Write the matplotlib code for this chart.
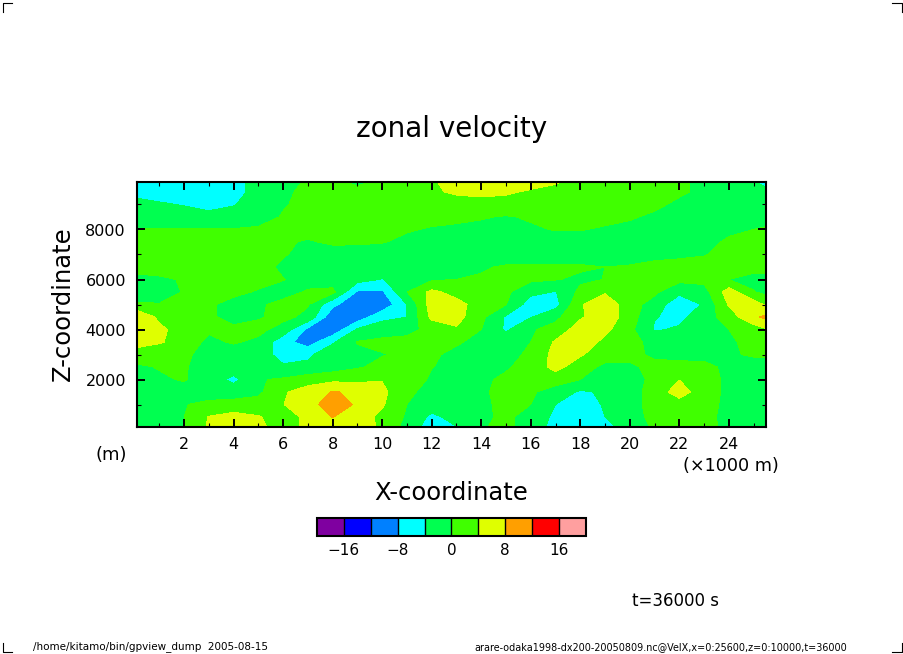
import matplotlib
matplotlib.use("Agg")
import matplotlib.pyplot as plt
import numpy as np
from matplotlib.lines import Line2D

W, H = 904, 654

x_km = [0.1, 1, 2, 3, 4, 5, 6, 7, 8, 9, 10, 11, 12, 13, 14, 15, 16, 17, 18, 19, 20, 21, 22, 23, 24, 25, 25.5]
z_m = [100, 500, 1000, 1500, 2000, 2500, 3000, 3500, 4000, 4500, 5000, 5500, 6000, 6500, 7000, 7500, 8000, 8500, 9000, 9500, 9900]

# zonal velocity, bottom row first
velx = [
    [-3, -2.5, 0, 4.5, 6, 5, 2, 5, 6, 5.5, 3.5, -1.5, -6, -4.1, -0.2, 0.5, -1, -6, -7, -5, -2.5, 0.6, 1.5, 1.2, -1, -2.5, -3],
    [-3, -2.5, 0, 4.2, 5.5, 4.3, 2, 5, 8.1, 6, 3, -0.5, -5, -2.5, -0.5, 0.5, -1, -5, -7, -4, -1.5, 1, 1.5, 1, -1, -2.5, -3],
    [-2.5, -2, -0.2, 1, 1.5, 1.5, 3.9, 6.5, 10, 7.5, 4.5, 0, -2, -3, -0.8, 1, 0, -4, -6.5, -3.5, -1, 1, 1.5, 1, -0.7, -2, -2.5],
    [-2, -1.5, -1.5, -2, -2, -0.8, 3.5, 6, 8.2, 7.5, 5, 0.6, -1, -1.5, -0.5, 1, 0.5, -1.5, -4.6, -3.4, -1, 1, 6.5, 1, -0.5, -1.5, -2],
    [-1.5, -0.5, 0.3, -2, -5, -0.3, 0.5, 2, 3, 3, 3.8, 2, -0.5, -1.5, -0.5, 0.5, 1, 1.5, 0, -2.8, -1, 0.6, 3.9, 1, -0.5, -1.5, -2],
    [-0.5, 0.2, 0.3, -1.5, -2, -2.5, -3.5, -3, -2, -0.4, 1, 1, 0.1, -1, -1.5, -0.3, 1, 5.5, 1.5, -0.8, -0.5, 0.8, 1, 0.8, -0.7, -1.5, -2],
    [1.5, 1, 0.5, -1, -2, -2, -5.5, -4.8, -1.5, -0.8, -0.2, 0.8, 0.5, -0.8, -1.5, -0.7, 0.4, 5.5, 4.5, 1.5, 0.8, -0.5, -1, -1, -0.4, 0.4, 0.7],
    [6, 4.5, 2, -0.8, 0.4, -0.8, -6.5, -10, -4.5, 0.2, 1, 1, 0.8, 0.4, -1, -2, 0, 4.5, 6.5, 3, 1, -1, -2, -2, -0.5, 1, 1.5],
    [6, 5, 2, 0.5, 0.6, 1, -1.5, -9, -11, -3.5, -2, -1, 1, 3.5, 0, -4.6, -0.5, 1.5, 6, 5, 1, -4.4, -3.5, -2, 0, 2, 3.5],
    [8, 3, 1.5, 0.5, -1, -0.3, 1, -1, -11, -10.5, -5, -4, 5, 5.5, 1, -4.5, -4.2, -1, 3.5, 6.5, 2, -3.8, -5, -2, 2, 7, 9],
    [0.5, 0.2, 0.8, 0.3, -0.7, -0.4, 0.8, 0.3, -7, -11, -11, -4, 6, 5.5, 2, 0.1, -6, -5.5, 3.5, 7, 1.5, -1.5, -7, -3.5, 4.4, 6, 3.5],
    [-2, -2, 0.3, 0, 0.5, -0.2, -1, 0.3, 1, -8.5, -8.7, -0.1, 5, 2.5, 1.5, 0.8, -3, -4.2, 1, 3.5, 1.5, 0.7, -3, -1.5, 6, 0.2, -1],
    [-1.5, -1, 0.5, 1, 0.7, 0.7, 0.1, -1, -2, -2.5, -4.2, -1.5, -0.5, 0, 0.5, 0.7, 0.7, 0.2, -0.7, 0.1, 1, 1, 1, 1, 0, -1, -1],
    [2, 2.5, 2.5, 2, 1.5, 1, -0.5, -1.5, -2, -2, -2, -2, -2, -1.5, -0.5, 0.5, 0.5, 0.5, 0.5, 0, 0.2, 1, 1.5, 1.5, 1.5, 1, 1],
    [2, 2, 2, 2, 1.5, 1, 0.2, -0.8, -1.5, -2, -2, -2, -2, -2.5, -2.5, -2.5, -2.5, -2, -2, -1.5, -1, -1, -0.8, -0.2, 1, 1.5, 1.5],
    [1.5, 1.5, 1.5, 1.5, 1.5, 1.2, 0.4, -0.3, 0.5, 0.6, 0.2, -0.8, -1.5, -2, -2, -2, -2, -1.5, -1.5, -1.5, -1.5, -1.5, -1.5, -0.8, 0.4, 1, 1],
    [0.2, 0.2, 0.2, 0.2, 0.2, 0.5, 1, 1, 0.8, 0.6, 0.6, 0.3, -0.3, -0.7, -1, -1, -0.5, 0.2, 0.2, -0.5, -1, -1, -1, -1, -0.5, 0, 0.3],
    [-2, -2.5, -2.5, -3, -2.5, -1.5, 0.3, 1, 1.5, 1.5, 1.5, 1.5, 1, 0.8, 0.3, -0.3, 0.4, 1, 1.2, 1.2, 0.4, -0.7, -1.5, -1.5, -1.5, -1, -1],
    [-3, -3.6, -4.2, -5, -4.2, -2.5, -0.3, 1, 1.5, 1.5, 2, 2, 2.5, 2.5, 2.5, 2.5, 2.5, 2.5, 2.5, 2.5, 2, 0.8, -0.8, -1.5, -1.5, -2, -2],
    [-5, -5.5, -6, -6, -5, -3, -0.8, 1, 1.5, 1.5, 2, 2.5, 3.5, 4.5, 5, 4.5, 3.5, 3, 2.5, 2.5, 2, 1.5, 0.6, -0.8, -1.5, -2.5, -3],
    [-6, -6, -6, -6, -5, -3, -1.5, 0.5, 1, -1, 1, 2, 3.7, 5, 6, 6, 5.5, 4.3, 3, 2.5, 2.2, 1.5, 0.7, -1, -2, -3.8, -5],
]

levels = [-20, -16, -12, -8, -4, 0, 4, 8, 12, 16, 20]
colors = ["#7f00a0", "#0000ff", "#0080ff", "#00ffff", "#00ff50",
          "#40ff00", "#dfff00", "#ff9f00", "#ff0000", "#ff9f9f"]
cbar_ticks = [-16, -8, 0, 8, 16]
x_ticks = [2, 4, 6, 8, 10, 12, 14, 16, 18, 20, 22, 24]
z_ticks = [2000, 4000, 6000, 8000]


def px_text(x, y, s, **kw):
    """Put text at a pixel position (y counted from the top)"""
    return fig.text(x / W, 1 - y / H, s, va="center", **kw)


def crop_mark(xs, ys):
    fig.add_artist(Line2D([v / W for v in xs], [1 - v / H for v in ys], color="black", lw=0.8))


plt.rcParams["font.family"] = ["DejaVu Sans"]
fig = plt.figure(figsize=(W / 100, H / 100), dpi=100)
ax = fig.add_axes([137 / W, 1 - 427 / H, 629 / W, 245 / H])

cf = ax.contourf(x_km, z_m, np.array(velx), levels=levels, colors=colors, antialiased=False)

ax.set_xlim(0.1, 25.5)
ax.set_ylim(100, 9900)
ax.set_xticks(x_ticks)
ax.set_yticks(z_ticks)
ax.set_xticks(np.arange(1, 26, 2), minor=True)
ax.set_yticks([1000, 3000, 5000, 7000, 9000], minor=True)
ax.tick_params(which="major", direction="in", top=True, right=True, length=5.8, width=1.4, labelsize=11.5, pad=7)
ax.tick_params(which="minor", direction="in", top=True, right=True, length=2.9, width=0.8)
ax.tick_params(axis="y", which="major", pad=8)
for side in ax.spines.values():
    side.set_linewidth(1.5)

ax.set_title("zonal velocity", fontsize=20, pad=0, y=1 + (182 - 129) / 245, va="center")
ax.set_xlabel("X-coordinate", fontsize=17.5)
ax.xaxis.set_label_coords(0.5, -(493 - 427) / 245)
ax.xaxis.label.set_va("center")
ax.set_ylabel("Z-coordinate", fontsize=17.5)
ax.yaxis.set_label_coords(-(137 - 63) / 629, (427 - 304) / 245)
ax.yaxis.label.set_va("center")

px_text(111.5, 455, "(m)", fontsize=13, ha="center")
px_text(731, 466, "(×1000 m)", fontsize=12.7, ha="center")
px_text(676, 601, "t=36000 s", fontsize=12, ha="center")
px_text(33, 647, "/home/kitamo/bin/gpview_dump  2005-08-15", fontsize=7.5, ha="left")
px_text(847, 647, "arare-odaka1998-dx200-20050809.nc@VelX,x=0:25600,z=0:10000,t=36000", fontsize=6.95, ha="right")

cax = fig.add_axes([317 / W, 1 - 536 / H, 269 / W, 18 / H])
cbar = fig.colorbar(cf, cax=cax, orientation="horizontal", ticks=cbar_ticks, drawedges=True)
cbar.ax.tick_params(length=0, labelsize=11, pad=5)
cbar.outline.set_linewidth(1.5)
cbar.dividers.set_linewidth(1.0)

crop_mark([12, 3, 3], [3, 3, 12])
crop_mark([892, 902, 902], [3, 3, 12])
crop_mark([3, 3, 12], [643, 652, 652])
crop_mark([892, 902, 902], [652, 652, 643])

fig.savefig("out.png", dpi=100)
